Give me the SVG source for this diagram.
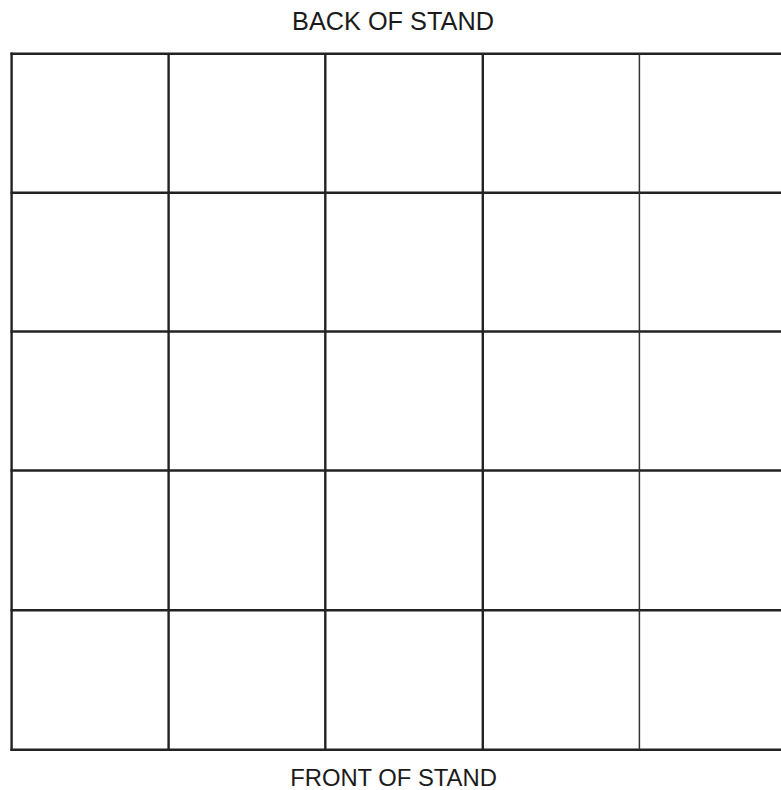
<svg xmlns="http://www.w3.org/2000/svg" width="781" height="790" viewBox="0 0 781 790">
<style>
.l{stroke:#222;stroke-width:2.4;fill:none}
.t{stroke:#333;stroke-width:1.5;fill:none}
.lbl{font-family:"Liberation Sans",Arial,sans-serif;font-size:25.3px;fill:#1a1a1a;text-anchor:middle}
.sm{font-size:23.8px}
</style>
<rect width="781" height="790" fill="#fff"/>
<g id="labels">
<text class="lbl" x="393" y="30">BACK OF STAND</text>
<text class="lbl sm" x="393.5" y="786">FRONT OF STAND</text>
</g>
<g id="grid">
<line class="l" x1="10.5" y1="53.8" x2="781" y2="53.8"/>
<line class="l" x1="10.5" y1="192.8" x2="781" y2="192.8"/>
<line class="l" x1="10.5" y1="331.5" x2="781" y2="331.5"/>
<line class="l" x1="10.5" y1="470.5" x2="781" y2="470.5"/>
<line class="l" x1="10.5" y1="610.3" x2="781" y2="610.3"/>
<line class="l" x1="10.5" y1="749.8" x2="781" y2="749.8"/>
<line class="l" x1="11.6" y1="52.6" x2="11.6" y2="751"/>
<line class="l" x1="168.6" y1="53.8" x2="168.6" y2="749.8"/>
<line class="l" x1="325.3" y1="53.8" x2="325.3" y2="749.8"/>
<line class="l" x1="482.8" y1="53.8" x2="482.8" y2="749.8"/>
<line class="t" x1="639.4" y1="53.8" x2="639.4" y2="749.8"/>
</g>
</svg>
